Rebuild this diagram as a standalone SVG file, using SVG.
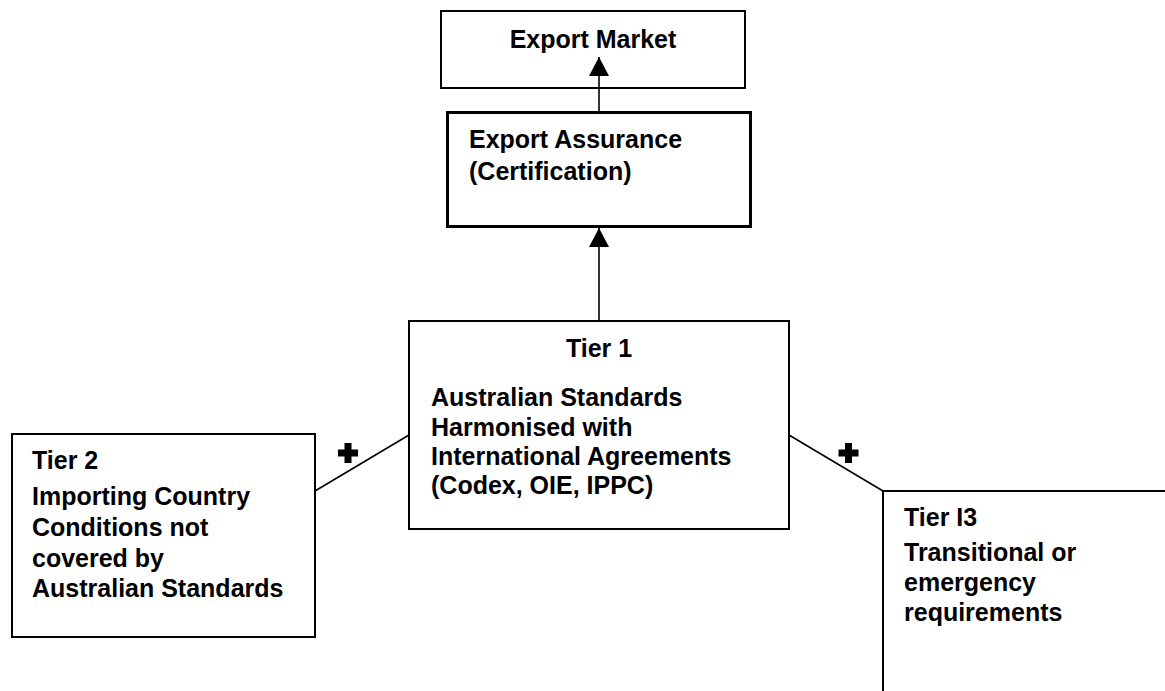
<svg xmlns="http://www.w3.org/2000/svg" width="1165" height="691" viewBox="0 0 1165 691">
<style>
text{font-family:"Liberation Sans",Arial,sans-serif;font-weight:bold;font-size:25px;fill:#000}
.box{fill:#fff;stroke:#000;stroke-width:2}
.thick{stroke-width:3}
.conn{stroke:#000;stroke-width:1.6;fill:none}
.plus{fill:#000}
</style>
<defs>
<marker id="arr" viewBox="0 0 19 20" refX="19" refY="10" markerWidth="19" markerHeight="20" markerUnits="userSpaceOnUse" orient="auto">
<path d="M0,0 L19,10 L0,20 Z" fill="#000"/>
</marker>
</defs>
<rect width="1165" height="691" fill="#fff"/>
<g id="export-market">
<rect class="box" x="441" y="11" width="304" height="77"/>
<text x="593" y="48" text-anchor="middle">Export Market</text>
</g>
<g id="export-assurance">
<rect class="box thick" x="447.5" y="112.5" width="303" height="114"/>
<text x="469" y="148">Export Assurance</text>
<text x="469" y="180">(Certification)</text>
</g>
<g id="tier1">
<rect class="box" x="409" y="321" width="380" height="208"/>
<text x="599" y="357" text-anchor="middle">Tier 1</text>
<text x="431" y="406">Australian Standards</text>
<text x="431" y="436">Harmonised with</text>
<text x="431" y="465">International Agreements</text>
<text x="431" y="494">(Codex, OIE, IPPC)</text>
</g>
<g id="tier2">
<rect class="box" x="12" y="434" width="303" height="203"/>
<text x="32" y="469">Tier 2</text>
<text x="32" y="505">Importing Country</text>
<text x="32" y="536">Conditions not</text>
<text x="32" y="567">covered by</text>
<text x="32" y="597">Australian Standards</text>
</g>
<g id="tier3">
<rect class="box" x="883" y="491" width="300" height="220"/>
<text x="904" y="526">Tier I3</text>
<text x="904" y="561">Transitional or</text>
<text x="904" y="591">emergency</text>
<text x="904" y="621">requirements</text>
</g>
<g id="connectors">
<line class="conn" x1="599" y1="112" x2="599" y2="57" marker-end="url(#arr)"/>
<line class="conn" x1="599" y1="321" x2="599" y2="228" marker-end="url(#arr)"/>
<line class="conn" x1="409" y1="435" x2="315" y2="491"/>
<line class="conn" x1="789" y1="435" x2="883" y2="491"/>
<path class="plus" d="M344.5,443 h7 v6.5 h6.5 v7 h-6.5 v6.5 h-7 v-6.5 h-6.5 v-7 h6.5 Z"/>
<path class="plus" d="M845,443 h7 v6.5 h6.5 v7 h-6.5 v6.5 h-7 v-6.5 h-6.5 v-7 h6.5 Z"/>
</g>
</svg>
